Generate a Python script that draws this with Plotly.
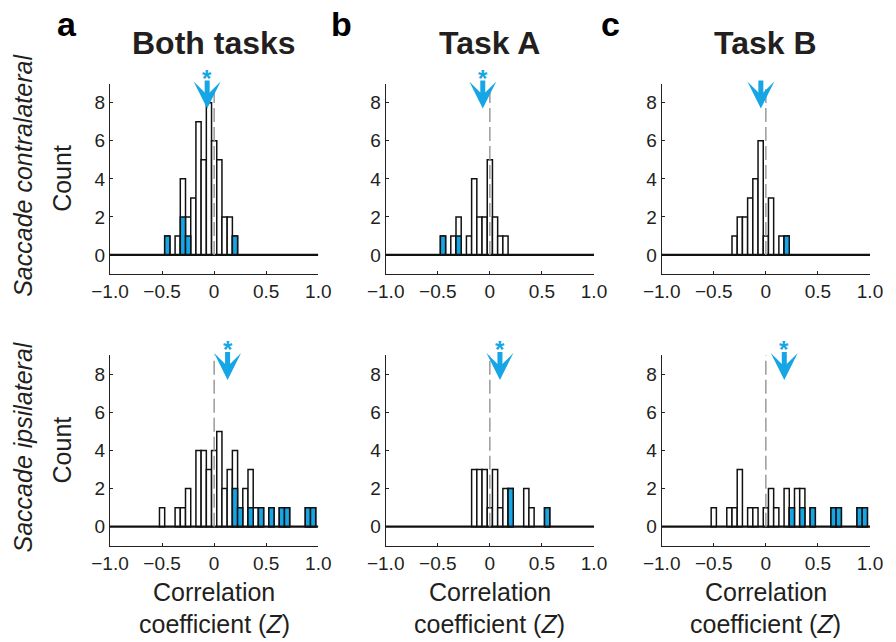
import plotly.graph_objects as go

# ---- histogram data: bin centres (bin width 0.05), counts, significant counts ----
contra_both_x = [-0.45, -0.35, -0.3, -0.25, -0.2, -0.15, -0.1, -0.05, 0, 0.05, 0.1, 0.15, 0.2]
contra_both_n = [1, 1, 4, 2, 3, 7, 5, 8, 6, 5, 2, 2, 1]
contra_both_sig = [1, 0, 2, 1, 0, 0, 0, 0, 0, 0, 0, 0, 1]

contra_a_x = [-0.45, -0.35, -0.3, -0.2, -0.15, -0.1, -0.05, 0, 0.05, 0.1, 0.15]
contra_a_n = [1, 1, 2, 1, 4, 2, 2, 5, 2, 1, 1]
contra_a_sig = [1, 0, 1, 0, 0, 0, 0, 0, 0, 0, 0]

contra_b_x = [-0.3, -0.25, -0.2, -0.15, -0.1, -0.05, 0, 0.05, 0.15, 0.2]
contra_b_n = [1, 2, 2, 3, 4, 6, 1, 3, 1, 1]
contra_b_sig = [0, 0, 0, 0, 0, 0, 0, 0, 0, 1]

ipsi_both_x = [-0.5, -0.35, -0.3, -0.25, -0.15, -0.1, -0.05, 0, 0.05, 0.1, 0.15,
               0.2, 0.25, 0.3, 0.35, 0.4, 0.45, 0.55, 0.65, 0.7, 0.9, 0.95]
ipsi_both_n = [1, 1, 1, 2, 4, 4, 3, 4, 5, 2, 3, 4, 1, 2, 3, 1, 1, 1, 1, 1, 1, 1]
ipsi_both_sig = [0, 0, 0, 0, 0, 0, 0, 0, 0, 0, 0, 2, 1, 0, 1, 0, 1, 1, 1, 1, 1, 1]

ipsi_a_x = [-0.15, -0.1, -0.05, 0, 0.05, 0.1, 0.15, 0.2, 0.35, 0.4, 0.55]
ipsi_a_n = [3, 3, 3, 1, 3, 1, 2, 2, 2, 1, 1]
ipsi_a_sig = [0, 0, 0, 0, 0, 0, 0, 2, 0, 0, 1]

ipsi_b_x = [-0.5, -0.35, -0.3, -0.25, -0.15, -0.1, 0, 0.05, 0.1, 0.2, 0.25, 0.3,
            0.35, 0.45, 0.65, 0.7, 0.9, 0.95]
ipsi_b_n = [1, 1, 1, 3, 1, 1, 1, 2, 1, 2, 1, 2, 2, 1, 1, 1, 1, 1]
ipsi_b_sig = [0, 0, 0, 0, 0, 0, 0, 0, 0, 0, 1, 0, 1, 1, 1, 1, 1, 1]

# population means (arrows) and whether they are significant (asterisk)
contra_means = [-0.067, -0.068, -0.048]
ipsi_means = [0.129, 0.097, 0.177]
contra_star = [True, True, False]
ipsi_star = [True, True, True]

col_titles = ["Both tasks", "Task A", "Task B"]
panel_letters = ["a", "b", "c"]
row_titles = ["Saccade contralateral", "Saccade ipsilateral"]
x_ticks = [-1.0, -0.5, 0, 0.5, 1.0]
x_ticktext = ["\u22121.0", "\u22120.5", "0", "0.5", "1.0"]
y_ticks = [0, 2, 4, 6, 8]
Y_RANGE = [-1, 9]
X_RANGE = [-1, 1]

panels = [
    [(contra_both_x, contra_both_n, contra_both_sig),
     (contra_a_x, contra_a_n, contra_a_sig),
     (contra_b_x, contra_b_n, contra_b_sig)],
    [(ipsi_both_x, ipsi_both_n, ipsi_both_sig),
     (ipsi_a_x, ipsi_a_n, ipsi_a_sig),
     (ipsi_b_x, ipsi_b_n, ipsi_b_sig)],
]
means = [contra_means, ipsi_means]
stars = [contra_star, ipsi_star]

# ---- layout geometry (pixels) ----
W, H = 896, 642
col_px = [(110, 318.3), (385.7, 594), (661.7, 870)]
row_px = [(83.7, 274), (355.2, 545.75)]
BLUE = "#16a6e6"
TXT = "#231f20"
FONT = "Liberation Sans, Arial, sans-serif"
BIN = 0.05
ARROW_TIP, ARROW_TAIL = 7.7, 9.25
STAR_TOP = 10.05  # top of the asterisk's text box, in count units


def px_x(p):
    return p / W


def px_y(p):
    return 1 - p / H


fig = go.Figure()
layout = dict(
    template="none",
    width=W, height=H, margin=dict(l=0, r=0, t=0, b=0, pad=0),
    paper_bgcolor="white", plot_bgcolor="white",
    showlegend=False, barmode="overlay",
    font=dict(family=FONT, color=TXT),
)
annotations = []
shapes = []

for r in range(2):
    for c in range(3):
        k = r * 3 + c + 1
        xa = "x" if k == 1 else f"x{k}"
        ya = "y" if k == 1 else f"y{k}"
        xs, ns, sig = panels[r][c]

        fig.add_trace(go.Bar(
            x=xs, y=ns, width=BIN, xaxis=xa, yaxis=ya,
            marker=dict(color="white", line=dict(color="#111", width=1.5)),
        ))
        sx = [x for x, s in zip(xs, sig) if s > 0]
        sy = [s for s in sig if s > 0]
        fig.add_trace(go.Bar(
            x=sx, y=sy, width=BIN, xaxis=xa, yaxis=ya,
            marker=dict(color=BLUE, line=dict(color="#111", width=1.5)),
        ))

        x0, x1 = col_px[c]
        y0, y1 = row_px[r]
        axis_common = dict(showline=True, linecolor="#222", linewidth=1.2,
                           ticks="inside", ticklen=3, tickcolor="#222",
                           showgrid=False, zeroline=False, automargin=False,
                           tickfont=dict(size=19, family=FONT, color=TXT))
        layout["xaxis" if k == 1 else f"xaxis{k}"] = dict(
            domain=[px_x(x0), px_x(x1)], anchor=ya, range=X_RANGE,
            tickvals=x_ticks, ticktext=x_ticktext, **axis_common)
        y_dom = [px_y(y1), px_y(y0)]
        layout["yaxis" if k == 1 else f"yaxis{k}"] = dict(
            domain=y_dom, anchor=xa, range=Y_RANGE,
            tickvals=y_ticks, **axis_common)

        # zero-count baseline and dashed reference at r = 0
        shapes.append(dict(type="line", xref=xa, yref=ya, x0=-1, x1=1, y0=0, y1=0,
                           line=dict(color="#111", width=2.2)))
        shapes.append(dict(type="line", xref=xa, yref=ya, x0=0, x1=0, y0=0, y1=9,
                           line=dict(color="#9a9a9a", width=1.5, dash="14px,5px")))

        # mean arrow
        m = means[r][c]
        annotations.append(dict(
            x=m, y=ARROW_TIP, ax=m, ay=ARROW_TAIL, xref=xa, yref=ya, axref=xa, ayref=ya,
            text="", showarrow=True, arrowhead=3, arrowwidth=5, arrowsize=0.9,
            arrowcolor=BLUE, standoff=0))
        if stars[r][c]:
            # asterisk sits above the axis range, so place it in paper units
            frac = (STAR_TOP - Y_RANGE[0]) / (Y_RANGE[1] - Y_RANGE[0])
            star_y = y_dom[0] + frac * (y_dom[1] - y_dom[0])
            annotations.append(dict(
                x=m, y=star_y, xref=xa, yref="paper", text="<b>*</b>",
                showarrow=False, font=dict(size=24, color=BLUE, family=FONT),
                xanchor="center", yanchor="top", borderpad=0))

        # row y-axis label
        if c == 0:
            annotations.append(dict(
                x=px_x(62), y=px_y((y0 + y1) / 2), xref="paper", yref="paper",
                text="Count", textangle=-90, showarrow=False,
                font=dict(size=25, color=TXT, family=FONT),
                xanchor="center", yanchor="middle"))
            annotations.append(dict(
                x=px_x(23), y=px_y((y0 + y1) / 2 - 3), xref="paper", yref="paper",
                text=f"<i>{row_titles[r]}</i>", textangle=-90, showarrow=False,
                font=dict(size=25, color=TXT, family=FONT),
                xanchor="center", yanchor="middle"))

        # x-axis title on bottom row
        if r == 1:
            xc = px_x((x0 + x1) / 2)
            annotations.append(dict(
                x=xc, y=px_y(592), xref="paper", yref="paper", text="Correlation",
                showarrow=False, font=dict(size=25, color=TXT, family=FONT),
                xanchor="center", yanchor="middle"))
            annotations.append(dict(
                x=xc, y=px_y(624), xref="paper", yref="paper",
                text="coefficient (<i>Z</i>)",
                showarrow=False, font=dict(size=25, color=TXT, family=FONT),
                xanchor="center", yanchor="middle"))

# column titles and panel letters
letter_x = [67, 341, 610]
for c in range(3):
    x0, x1 = col_px[c]
    annotations.append(dict(
        x=px_x((x0 + x1) / 2), y=px_y(43), xref="paper", yref="paper",
        text=f"<b>{col_titles[c]}</b>", showarrow=False,
        font=dict(size=32, color=TXT, family=FONT),
        xanchor="center", yanchor="middle", borderpad=0))
    annotations.append(dict(
        x=px_x(letter_x[c]), y=px_y(24), xref="paper", yref="paper",
        text=f"<b>{panel_letters[c]}</b>", showarrow=False,
        font=dict(size=34, color="#000", family=FONT),
        xanchor="center", yanchor="middle"))

layout["annotations"] = annotations
layout["shapes"] = shapes
fig.update_layout(**layout)
fig.write_html("out.html")
